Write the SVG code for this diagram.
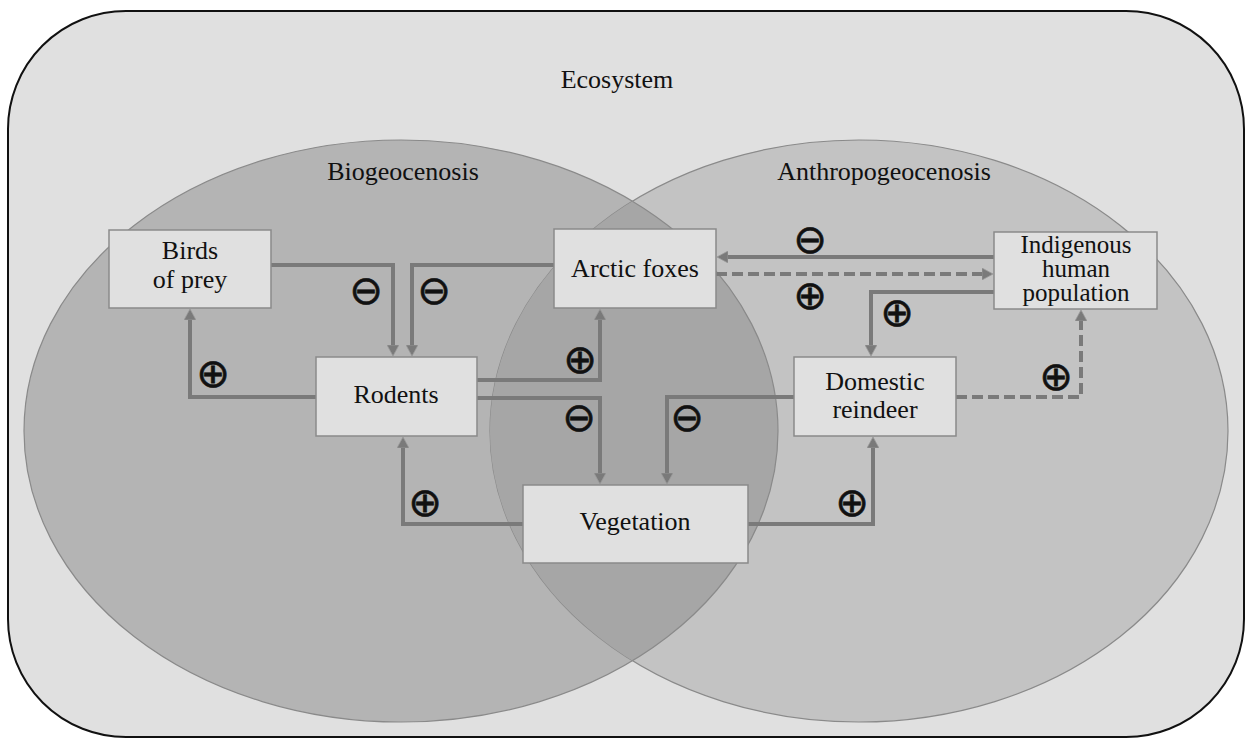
<svg xmlns="http://www.w3.org/2000/svg" width="1246" height="739" viewBox="0 0 1246 739">
<defs>
<style>
.box{fill:#e0e0e0;stroke:#8a8a8a;stroke-width:1.5}
.lbl{font-family:"Liberation Serif","Times New Roman",serif;font-size:26px;fill:#111;text-anchor:middle}
.sm{font-size:25px}
.sign{font-family:"DejaVu Sans",sans-serif;font-size:40px;fill:#111;text-anchor:middle;stroke:#111;stroke-width:0.6}
.ln{fill:none;stroke:#7a7a7a;stroke-width:4;marker-end:url(#ah)}
.dash{stroke-dasharray:11 5}
</style>
<marker id="ah" markerUnits="userSpaceOnUse" markerWidth="12" markerHeight="12" viewBox="0 0 12 12" refX="7" refY="6" orient="auto">
<path d="M0,0 L11,6 L0,12 z" fill="#7a7a7a" stroke="#9a9a9a" stroke-width="0.8"/>
</marker>
<clipPath id="clipR"><ellipse cx="859" cy="431" rx="369" ry="291"/></clipPath>
</defs>
<rect x="8" y="11" width="1236" height="726" rx="118" ry="118" fill="#e0e0e0" stroke="#111" stroke-width="2"/>
<g id="ellipses">
<ellipse cx="401" cy="431" rx="377" ry="291" fill="#b4b4b4" stroke="#8a8a8a" stroke-width="1.2"/>
<ellipse cx="859" cy="431" rx="369" ry="291" fill="#c3c3c3" stroke="#8a8a8a" stroke-width="1.2"/>
<ellipse cx="401" cy="431" rx="377" ry="291" fill="#a6a6a6" stroke="#8a8a8a" stroke-width="1.2" clip-path="url(#clipR)"/>
</g>
<text class="lbl" x="617" y="88">Ecosystem</text>
<text class="lbl" x="403" y="180">Biogeocenosis</text>
<text class="lbl" x="884" y="180">Anthropogeocenosis</text>
<g id="connectors">
<path class="ln" d="M271,265 H393 V352"/>
<path class="ln" d="M554,265 H412 V352"/>
<path class="ln" d="M316,397 H190 V313"/>
<path class="ln" d="M477,380 H600 V313"/>
<path class="ln" d="M477,398 H600 V480"/>
<path class="ln" d="M794,397 H667 V480"/>
<path class="ln" d="M523,524 H403 V441"/>
<path class="ln" d="M748,524 H873 V441"/>
<path class="ln" d="M994,257 H721"/>
<path class="ln dash" d="M716,274 H989"/>
<path class="ln" d="M994,292 H871 V352"/>
<path class="ln dash" d="M956,397 H1081 V314"/>
</g>
<g id="signs">
<text class="sign" x="366" y="304">⊖</text>
<text class="sign" x="434" y="304">⊖</text>
<text class="sign" x="213" y="387">⊕</text>
<text class="sign" x="580" y="373">⊕</text>
<text class="sign" x="579" y="431">⊖</text>
<text class="sign" x="687" y="431">⊖</text>
<text class="sign" x="425" y="516">⊕</text>
<text class="sign" x="852" y="516">⊕</text>
<text class="sign" x="810" y="253">⊖</text>
<text class="sign" x="810" y="309">⊕</text>
<text class="sign" x="897" y="326">⊕</text>
<text class="sign" x="1056" y="390">⊕</text>
</g>
<g id="birds">
<rect class="box" x="109" y="230" width="162" height="78"/>
<text class="lbl" x="190" y="259">Birds</text>
<text class="lbl" x="190" y="288">of prey</text>
</g>
<g id="rodents">
<rect class="box" x="316" y="357" width="161" height="79"/>
<text class="lbl" x="396" y="403">Rodents</text>
</g>
<g id="foxes">
<rect class="box" x="554" y="229" width="162" height="79"/>
<text class="lbl" x="635" y="277">Arctic foxes</text>
</g>
<g id="reindeer">
<rect class="box" x="794" y="357" width="162" height="79"/>
<text class="lbl" x="875" y="390">Domestic</text>
<text class="lbl" x="875" y="418">reindeer</text>
</g>
<g id="humans">
<rect class="box" x="994" y="232" width="163" height="77"/>
<text class="lbl sm" x="1076" y="253">Indigenous</text>
<text class="lbl sm" x="1076" y="277">human</text>
<text class="lbl sm" x="1076" y="301">population</text>
</g>
<g id="vegetation">
<rect class="box" x="523" y="485" width="225" height="78"/>
<text class="lbl" x="635" y="530">Vegetation</text>
</g>
</svg>
